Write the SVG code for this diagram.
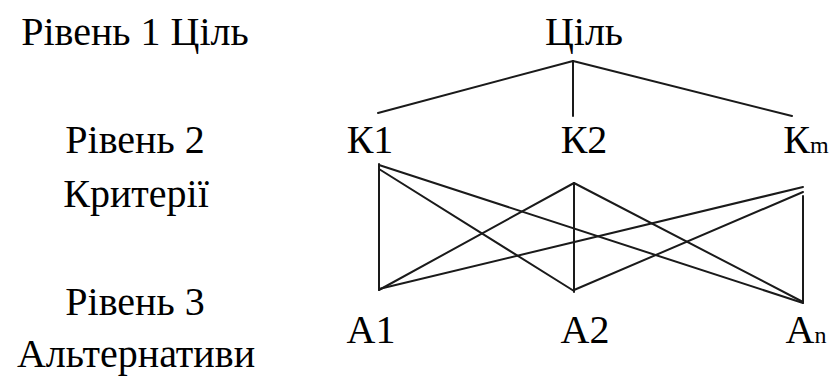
<svg xmlns="http://www.w3.org/2000/svg" width="833" height="376" viewBox="0 0 833 376">
  <style>
    .edge { stroke: #1a1a1a; stroke-width: 2; fill: none; stroke-linecap: round; }
  </style>
  <rect width="833" height="376" fill="#fff"/>

  <g font-family="Liberation Serif, Times New Roman, serif" font-size="40" fill="#000" text-anchor="middle">
    <!-- level labels -->
    <g id="levels">
      <text x="135" y="45">Рівень 1 Ціль</text>
      <text x="135" y="153">Рівень 2</text>
      <text x="136" y="207">Критерії</text>
      <text x="135" y="315">Рівень 3</text>
      <text x="136" y="367">Альтернативи</text>
    </g>

    <!-- nodes -->
    <g id="goal"><text x="584" y="45">Ціль</text></g>
    <g id="k1"><text x="370" y="153">К1</text></g>
    <g id="k2"><text x="584" y="153">К2</text></g>
    <g id="km"><text x="806" y="153">К<tspan font-size="24">m</tspan></text></g>
    <g id="a1"><text x="371" y="343">А1</text></g>
    <g id="a2"><text x="585" y="343">А2</text></g>
    <g id="an"><text x="806" y="343">А<tspan font-size="24">n</tspan></text></g>
  </g>

  <!-- connectors -->
  <g id="connectors">
    <line class="edge" x1="573" y1="61" x2="378" y2="113"/>
    <line class="edge" x1="573" y1="61" x2="573" y2="116"/>
    <line class="edge" x1="573" y1="61" x2="792" y2="116"/>

    <line class="edge" x1="379" y1="164" x2="379" y2="290"/>
    <line class="edge" x1="379" y1="165" x2="803" y2="303"/>
    <line class="edge" x1="379" y1="169" x2="574" y2="291"/>

    <line class="edge" x1="574" y1="183" x2="379" y2="290"/>
    <line class="edge" x1="574" y1="183" x2="574" y2="292"/>
    <line class="edge" x1="574" y1="183" x2="803" y2="302"/>

    <line class="edge" x1="803" y1="187" x2="379" y2="289"/>
    <line class="edge" x1="803" y1="192" x2="574" y2="290"/>
    <line class="edge" x1="803" y1="196" x2="803" y2="303"/>
  </g>
</svg>
